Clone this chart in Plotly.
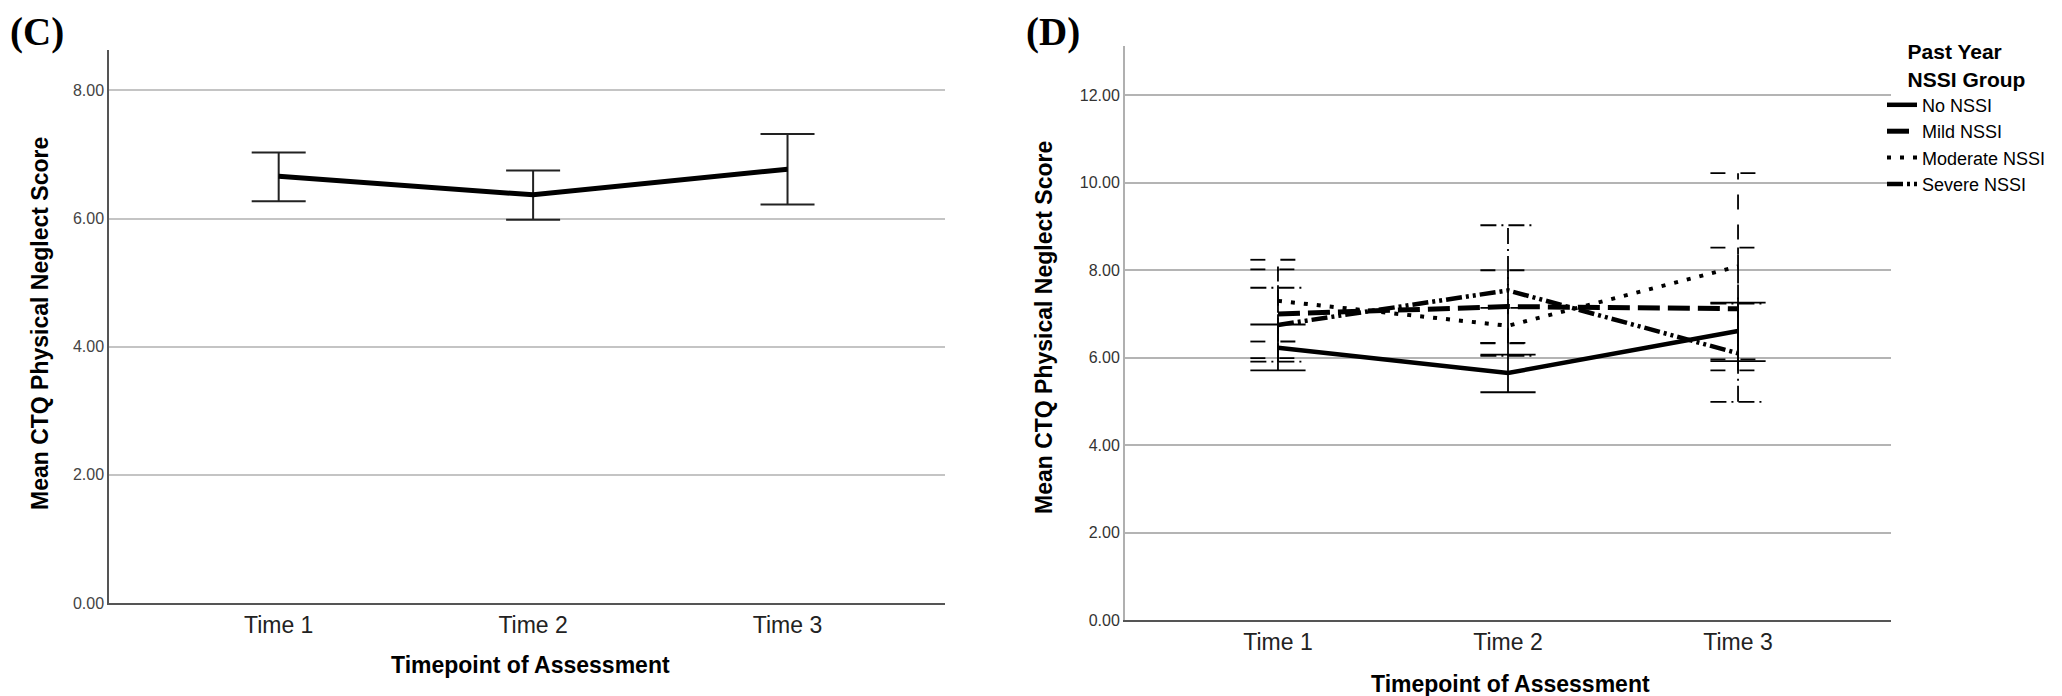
import plotly.graph_objects as go

# ---------------- data ----------------
times = ["Time 1", "Time 2", "Time 3"]
y_ticks_c = [0, 2, 4, 6, 8]
y_ticks_d = [0, 2, 4, 6, 8, 10, 12]

# Panel C: whole sample
overall_mean = [6.66, 6.37, 6.77]
overall_lower = [6.27, 5.98, 6.22]
overall_upper = [7.03, 6.75, 7.32]

# Panel D: by past-year NSSI group
groups = ["No NSSI", "Mild NSSI", "Moderate NSSI", "Severe NSSI"]
no_mean = [6.23, 5.65, 6.61]
no_lower = [5.71, 5.21, 5.92]
no_upper = [6.76, 6.07, 7.26]
mild_mean = [7.00, 7.17, 7.12]
mild_lower = [5.99, 6.33, 5.71]
mild_upper = [8.02, 8.00, 8.52]
moderate_mean = [7.30, 6.73, 8.09]
moderate_lower = [6.37, 6.34, 5.96]
moderate_upper = [8.24, 7.14, 10.22]
severe_mean = [6.75, 7.54, 6.10]
severe_lower = [5.91, 6.04, 4.99]
severe_upper = [7.60, 9.03, 7.24]

group_means = [no_mean, mild_mean, moderate_mean, severe_mean]
group_lowers = [no_lower, mild_lower, moderate_lower, severe_lower]
group_uppers = [no_upper, mild_upper, moderate_upper, severe_upper]

# ---------------- styles ----------------
W, H = 2062, 696
FONT = "Liberation Sans, Arial, sans-serif"
SERIF = "Liberation Serif, Times New Roman, serif"
line_dash = ["solid", "22px,8px", "4px,9px", "16px,4px,3px,4px,3px,4px"]
line_width = [4.5, 5, 4, 4.5]
err_dash = ["solid", "15px,14px", "15px,15px", "16px,5px,2px,5px"]
cap_half = 0.12

xi = list(range(len(times)))

fig = go.Figure()

# Panel C
fig.add_trace(go.Scatter(
    x=xi, y=overall_mean, mode="lines",
    line=dict(color="black", width=5),
    error_y=dict(type="data", symmetric=False,
                 array=[u - m for u, m in zip(overall_upper, overall_mean)],
                 arrayminus=[m - l for m, l in zip(overall_mean, overall_lower)],
                 color="#222222", thickness=2, width=27),
    showlegend=False, xaxis="x", yaxis="y"))

# Panel D error bars (styled by group)
for g, name in enumerate(groups):
    ex, ey = [], []
    for t in xi:
        lo, hi = group_lowers[g][t], group_uppers[g][t]
        ex += [t, t, None, t - cap_half, t + cap_half, None, t - cap_half, t + cap_half, None]
        ey += [lo, hi, None, lo, lo, None, hi, hi, None]
    fig.add_trace(go.Scatter(
        x=ex, y=ey, mode="lines",
        line=dict(color="black", width=1.8, dash=err_dash[g]),
        showlegend=False, hoverinfo="skip", xaxis="x2", yaxis="y2"))

# Panel D mean lines
for g, name in enumerate(groups):
    fig.add_trace(go.Scatter(
        x=xi, y=group_means[g], mode="lines", name=name,
        line=dict(color="black", width=line_width[g], dash=line_dash[g]),
        xaxis="x2", yaxis="y2"))


def px_x(p):
    return p / W


def px_y(p):
    return 1 - p / H


fig.update_layout(
    width=W, height=H,
    margin=dict(l=0, r=0, t=0, b=0, autoexpand=False),
    paper_bgcolor="white", plot_bgcolor="white",
    font=dict(family=FONT, color="black"),
    xaxis=dict(domain=[px_x(101), px_x(937)], range=[-0.667, 2.619],
               tickmode="array", tickvals=xi, ticktext=times,
               showgrid=False, zeroline=False, showline=True,
               linecolor="#555555", linewidth=2, ticks="",
               tickfont=dict(size=23, color="#222222"), anchor="y"),
    yaxis=dict(domain=[px_y(595), px_y(42)], range=[0, 8.63],
               tickmode="array", tickvals=y_ticks_c,
               ticktext=[f"{v:.2f}" for v in y_ticks_c],
               showgrid=True, gridcolor="#c4c4c4", gridwidth=2,
               zeroline=False, showline=True, linecolor="#555555", linewidth=1.5,
               ticks="", tickfont=dict(size=16, color="#444444"), anchor="x"),
    xaxis2=dict(domain=[px_x(1117), px_x(1883)], range=[-0.665, 2.665],
                tickmode="array", tickvals=xi, ticktext=times,
                showgrid=False, zeroline=False, showline=True,
                linecolor="#555555", linewidth=2, ticks="",
                tickfont=dict(size=23, color="#222222"), anchor="y2"),
    yaxis2=dict(domain=[px_y(612), px_y(38)], range=[0, 13.13],
                tickmode="array", tickvals=y_ticks_d,
                ticktext=[f"{v:.2f}" for v in y_ticks_d],
                showgrid=True, gridcolor="#b4b4b4", gridwidth=1.5,
                zeroline=False, showline=True, linecolor="#b0b0b0", linewidth=2,
                ticks="", tickfont=dict(size=16, color="#333333"), anchor="x2"),
    legend=dict(x=px_x(1874), y=px_y(24), xanchor="left", yanchor="top",
                bgcolor="rgba(0,0,0,0)", borderwidth=0,
                font=dict(size=18, color="black", family=FONT),
                title=dict(text="<b>Past Year<br>NSSI Group</b>", side="top center",
                           font=dict(size=21, color="black", family=FONT)),
                itemwidth=30, tracegroupgap=0),
    showlegend=True,
)

annotations = [
    dict(text="<b>(C)</b>", x=0, y=1.0, xref="paper", yref="paper",
         xanchor="left", yanchor="top", showarrow=False,
         font=dict(family=SERIF, size=39, color="black")),
    dict(text="<b>(D)</b>", x=px_x(1016), y=1.0, xref="paper", yref="paper",
         xanchor="left", yanchor="top", showarrow=False,
         font=dict(family=SERIF, size=39, color="black")),
    dict(text="<b>Mean CTQ Physical Neglect Score</b>", x=px_x(32), y=px_y(316),
         xref="paper", yref="paper", xanchor="center", yanchor="middle",
         textangle=-90, showarrow=False, font=dict(size=23, color="black")),
    dict(text="<b>Mean CTQ Physical Neglect Score</b>", x=px_x(1036), y=px_y(320),
         xref="paper", yref="paper", xanchor="center", yanchor="middle",
         textangle=-90, showarrow=False, font=dict(size=23, color="black")),
    dict(text="<b>Timepoint of Assessment</b>", x=px_x(522), y=px_y(657),
         xref="paper", yref="paper", xanchor="center", yanchor="middle",
         showarrow=False, font=dict(size=23, color="black")),
    dict(text="<b>Timepoint of Assessment</b>", x=px_x(1502), y=px_y(676),
         xref="paper", yref="paper", xanchor="center", yanchor="middle",
         showarrow=False, font=dict(size=23, color="black")),
]
fig.update_layout(annotations=annotations)

fig.write_html("out.html")
